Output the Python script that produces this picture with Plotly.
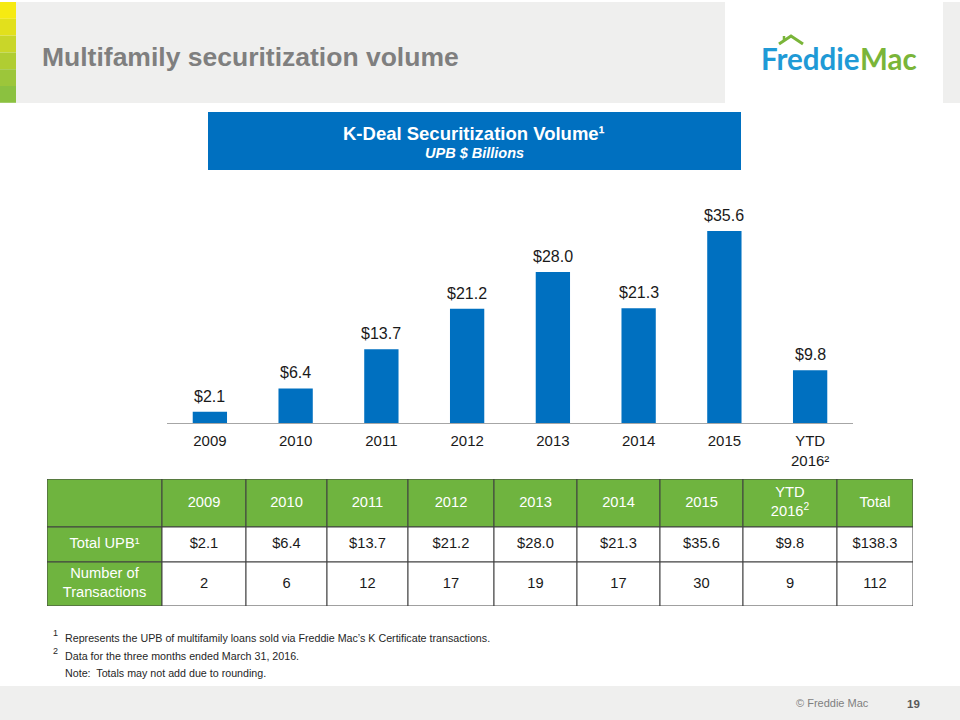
import plotly.graph_objects as go

# ---- data ----
categories = ["2009", "2010", "2011", "2012", "2013", "2014", "2015", "YTD<br>2016²"]
upb_billions = [2.1, 6.4, 13.7, 21.2, 28.0, 21.3, 35.6, 9.8]
transactions = [2, 6, 12, 17, 19, 17, 30, 9]
total_upb = 138.3
total_transactions = 112
table_header = ["", "2009", "2010", "2011", "2012", "2013", "2014", "2015", "YTD<br>2016<sup>2</sup>", "Total"]
row_labels = ["Total UPB¹", "Number of<br>Transactions"]

# ---- layout constants ----
W, H = 960, 720
FONT = "Arial, 'Liberation Sans', sans-serif"
BLUE = "#0070C0"
GREEN = "#6fb43f"
LINE = "#404040"
col_widths = [115, 84, 81, 81, 86, 83, 83, 83, 94, 76]
row_heights = [48, 35, 44]
TABLE_X0, TABLE_Y0 = 47, 479


def px(x):
    return x / W


def py(y):
    return 1 - y / H


fig = go.Figure()

# ---- bar chart ----
fig.add_trace(go.Bar(
    x=categories, y=upb_billions,
    marker=dict(color=BLUE, line=dict(width=0)),
    hoverinfo="skip", width=0.4,
))

# ---- table (cells drawn on their own axes) ----
table_rows = [table_header,
              [row_labels[0]] + [f"${v:.1f}" for v in upb_billions] + [f"${total_upb:.1f}"],
              [row_labels[1]] + [str(n) for n in transactions] + [str(total_transactions)]]

x_edges = [0]
for w in col_widths:
    x_edges.append(x_edges[-1] + w)
y_edges = [0]
for h in row_heights:
    y_edges.append(y_edges[-1] + h)

shapes = []
tx, ty, tt, tc = [], [], [], []
for r, row in enumerate(table_rows):
    for c, val in enumerate(row):
        green = (r == 0) or (c == 0)
        shapes.append(dict(type="rect", xref="x2", yref="y2",
                           x0=x_edges[c], x1=x_edges[c + 1], y0=y_edges[r], y1=y_edges[r + 1],
                           fillcolor=GREEN if green else "white",
                           line=dict(color=LINE, width=1), layer="below"))
        if val:
            tx.append((x_edges[c] + x_edges[c + 1]) / 2)
            ty.append((y_edges[r] + y_edges[r + 1]) / 2)
            tt.append(val)
            tc.append("white" if green else "#1a1a1a")

fig.add_trace(go.Scatter(
    x=tx, y=ty, text=tt, mode="text", xaxis="x2", yaxis="y2",
    textposition="middle center", hoverinfo="skip",
    textfont=dict(family=FONT, size=14.7, color=tc),
))

# ---- decorations ----
shapes.append(dict(type="rect", xref="paper", yref="paper", x0=px(16), x1=px(725), y0=py(103), y1=py(2),
                   fillcolor="#efefee", line=dict(width=0), layer="below"))
shapes.append(dict(type="rect", xref="paper", yref="paper", x0=px(943), x1=1, y0=py(103), y1=py(2),
                   fillcolor="#efefee", line=dict(width=0), layer="below"))
stripe_colors = ["#f6ea12", "#e2e01c", "#c9d629", "#b0cd32", "#9cc63a", "#8bc140"]
for i, col in enumerate(stripe_colors):
    shapes.append(dict(type="rect", xref="paper", yref="paper", x0=0, x1=px(16),
                       y0=py(2 + (i + 1) * 16.8), y1=py(2 + i * 16.8),
                       fillcolor=col, line=dict(width=0), layer="below"))
shapes.append(dict(type="rect", xref="paper", yref="paper", x0=0, x1=1, y0=0, y1=py(686),
                   fillcolor="#efefee", line=dict(width=0), layer="below"))
shapes.append(dict(type="rect", xref="paper", yref="paper", x0=px(208), x1=px(741), y0=py(170), y1=py(112),
                   fillcolor=BLUE, line=dict(width=0), layer="below"))
shapes.append(dict(type="path", xref="paper", yref="paper",
                   path=f"M {px(779)},{py(44)} L {px(791)},{py(36)} L {px(803)},{py(44)}",
                   line=dict(color="#7ab539", width=3)))
shapes.append(dict(type="line", xref="paper", yref="paper", x0=px(784), x1=px(784), y0=py(41), y1=py(36),
                   line=dict(color="#7ab539", width=2.5)))

annotations = [
    dict(text="<b>Multifamily securitization volume</b>", x=px(40), y=py(57), xanchor="left", yanchor="middle",
         font=dict(family=FONT, size=26.5, color="#7f7f7f")),
    dict(text="<b>Freddie</b>", x=px(862), y=py(58), xanchor="right", yanchor="middle",
         font=dict(family="Lato, sans-serif", size=29.5, color="#1f9ad6")),
    dict(text="<b>Mac</b>", x=px(858), y=py(58), xanchor="left", yanchor="middle",
         font=dict(family="Lato, sans-serif", size=29.5, color="#7ab539")),
    dict(text="<b>K-Deal Securitization Volume¹</b>", x=px(474), y=py(133), xanchor="center", yanchor="middle",
         font=dict(family=FONT, size=18.5, color="white")),
    dict(text="<b><i>UPB $ Billions</i></b>", x=px(474), y=py(153), xanchor="center", yanchor="middle",
         font=dict(family=FONT, size=14.5, color="white")),
    dict(text="1", x=px(51), y=py(633), xanchor="left", yanchor="middle",
         font=dict(family=FONT, size=9, color="#262626")),
    dict(text="Represents the UPB of multifamily loans sold via Freddie Mac’s K Certificate transactions.",
         x=px(63), y=py(638), xanchor="left", yanchor="middle", font=dict(family=FONT, size=10.7, color="#262626")),
    dict(text="2", x=px(51), y=py(651), xanchor="left", yanchor="middle",
         font=dict(family=FONT, size=9, color="#262626")),
    dict(text="Data for the three months ended March 31, 2016.",
         x=px(63), y=py(656), xanchor="left", yanchor="middle", font=dict(family=FONT, size=10.7, color="#262626")),
    dict(text="Note:  Totals may not add due to rounding.",
         x=px(63), y=py(673), xanchor="left", yanchor="middle", font=dict(family=FONT, size=10.7, color="#262626")),
    dict(text="© Freddie Mac", x=px(871), y=py(703), xanchor="right", yanchor="middle",
         font=dict(family=FONT, size=11, color="#7f7f7f")),
    dict(text="<b>19</b>", x=px(905), y=py(704), xanchor="left", yanchor="middle",
         font=dict(family=FONT, size=11.5, color="#595959")),
]
for a in annotations:
    a.update(xref="paper", yref="paper", showarrow=False)

# bar value labels, placed through the bar axes (category index positions)
for i, v in enumerate(upb_billions):
    annotations.append(dict(text=f"${v:.1f}", x=i, y=v, xref="x", yref="y",
                            xanchor="center", yanchor="bottom", yshift=5, showarrow=False,
                            font=dict(family=FONT, size=16, color="#1a1a1a")))

fig.update_layout(
    width=W, height=H, margin=dict(l=0, r=0, t=0, b=0),
    paper_bgcolor="white", plot_bgcolor="rgba(0,0,0,0)",
    showlegend=False, bargap=0.6,
    shapes=shapes, annotations=annotations,
    xaxis=dict(type="category", categoryorder="array", categoryarray=categories,
               range=[-0.5, len(categories) - 0.5],
               domain=[px(167), px(853)], showgrid=False, zeroline=False,
               showline=True, linecolor="#a6a6a6", linewidth=1, ticks="",
               ticklabelstandoff=4,
               tickfont=dict(family=FONT, size=15, color="#1a1a1a"), fixedrange=True),
    yaxis=dict(domain=[py(423), py(195)], range=[0, 42.3], visible=False, fixedrange=True),
    xaxis2=dict(domain=[px(TABLE_X0), px(TABLE_X0 + x_edges[-1])], range=[0, x_edges[-1]],
                visible=False, fixedrange=True, anchor="y2"),
    yaxis2=dict(domain=[py(TABLE_Y0 + y_edges[-1]), py(TABLE_Y0)], range=[y_edges[-1], 0],
                visible=False, fixedrange=True, anchor="x2"),
)

fig.write_html("out.html", config={"displayModeBar": False},
               post_script="document.body.style.margin='0';")
